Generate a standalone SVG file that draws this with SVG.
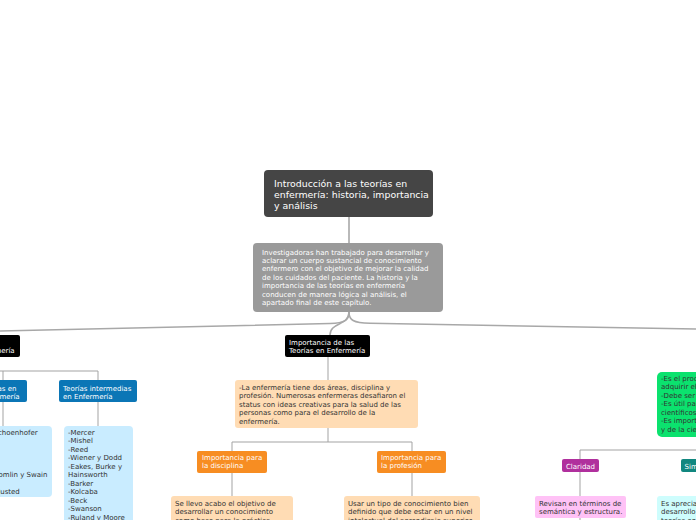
<svg xmlns="http://www.w3.org/2000/svg" width="696" height="520" viewBox="0 0 696 520">
<style>
text{font-family:"DejaVu Sans","Verdana",sans-serif;font-size:7px;fill:#333}
.w{fill:#fff}
.t{font-size:9.4px;fill:#fff}
.c{fill:none;stroke:#a3a3a3;stroke-width:1}
.m{fill:none;stroke:#a8a8a8;stroke-width:1.6}
</style>
<rect width="696" height="520" fill="#fff"/>
<g id="connectors">
<path class="m" d="M349,217 V243"/>
<path class="m" d="M349,312 C349,320 345,323 330,323.5 L0,331"/>
<path class="m" d="M349,312 C349,320 353,323 370,323.3 L696,329"/>
<path class="m" d="M349,312 C349,326 330,322 330,335"/>
<path class="c" d="M-23,357 V371 M-40,371 H98 M3,371 V380 M98,371 V380 M3,402 V426 M98,402 V426"/>
<path class="c" d="M328,357 V380 M328,428 V442 M232,442 H412 M232,442 V451 M412,442 V451 M232,473 V496 M412,473 V496"/>
<path class="c" d="M580,450 H720 M580,450 V459 M580,472 V496 M580,518 V520"/>
</g>
<g id="root">
<rect x="264" y="170" width="169" height="47" rx="4" fill="#454545"/>
<text class="t" x="274" y="186.5">Introducción a las teorías en</text>
<text class="t" x="274" y="197.5">enfermería: historia, importancia</text>
<text class="t" x="274" y="208.5">y análisis</text>
</g>
<g id="intro">
<rect x="253" y="243" width="190" height="69" rx="4" fill="#9a9a9a"/>
<text class="w" x="262" y="254.5">Investigadoras han trabajado para desarrollar y</text>
<text class="w" x="262" y="262.9">aclarar un cuerpo sustancial de conocimiento</text>
<text class="w" x="262" y="271.3">enfermero con el objetivo de mejorar la calidad</text>
<text class="w" x="262" y="279.7">de los cuidados del paciente. La historia y la</text>
<text class="w" x="262" y="288.1">importancia de las teorías en enfermería</text>
<text class="w" x="262" y="296.5">conducen de manera lógica al análisis, el</text>
<text class="w" x="262" y="304.9">apartado final de este capítulo.</text>
</g>
<g id="left-topic">
<rect x="-66" y="335" width="86" height="22" rx="2" fill="#000"/>
<text class="w" x="-61.6" y="353.2">Teorías en Enfermería</text>
</g>
<g id="teorias">
<rect x="-22" y="380" width="49" height="22" rx="2" fill="#0b76b6"/>
<text class="w" x="-19" y="390.6">Teorías en</text>
<text class="w" x="-19" y="398.8">Enfermería</text>
</g>
<g id="teorias-intermedias">
<rect x="59" y="380" width="78" height="22" rx="2" fill="#0b76b6"/>
<text class="w" x="63" y="390.6">Teorías intermedias</text>
<text class="w" x="63" y="398.8">en Enfermería</text>
</g>
<g id="lista-teorias">
<rect x="-46" y="426" width="98" height="71" rx="4" fill="#c9ecff"/>
<text x="-41" y="434.5">-Boykin y Schoenhofer</text>
<text x="-41" y="477">-Erickson, Tomlin y Swain</text>
<text x="-41" y="494">-Husted y Husted</text>
</g>
<g id="lista-intermedias">
<rect x="64" y="426" width="69" height="104" rx="4" fill="#c9ecff"/>
<text x="68" y="434.5">-Mercer</text>
<text x="68" y="443">-Mishel</text>
<text x="68" y="451.5">-Reed</text>
<text x="68" y="460">-Wiener y Dodd</text>
<text x="68" y="468.5">-Eakes, Burke y</text>
<text x="68" y="477">Hainsworth</text>
<text x="68" y="485.5">-Barker</text>
<text x="68" y="494">-Kolcaba</text>
<text x="68" y="502.5">-Beck</text>
<text x="68" y="511">-Swanson</text>
<text x="68" y="519.5">-Ruland y Moore</text>
</g>
<g id="importancia">
<rect x="285" y="335" width="85" height="22" rx="2" fill="#000"/>
<text class="w" x="289" y="345.3">Importancia de las</text>
<text class="w" x="289" y="353.3">Teorías en Enfermería</text>
</g>
<g id="areas">
<rect x="235" y="380" width="183" height="48" rx="3" fill="#ffdcb4"/>
<text x="239" y="389.5">-La enfermería tiene dos áreas, disciplina y</text>
<text x="239" y="398">profesión. Numerosas enfermeras desafiaron el</text>
<text x="239" y="406.5">status con ideas creativas para la salud de las</text>
<text x="239" y="415">personas como para el desarrollo de la</text>
<text x="239" y="423.5">enfermería.</text>
</g>
<g id="disciplina">
<rect x="197" y="451" width="70" height="22" rx="2" fill="#f78d22"/>
<text class="w" x="202" y="459.8">Importancia para</text>
<text class="w" x="202" y="468.3">la disciplina</text>
</g>
<g id="profesion">
<rect x="377" y="451" width="69" height="22" rx="2" fill="#f78d22"/>
<text class="w" x="381" y="459.8">Importancia para</text>
<text class="w" x="381" y="468.3">la profesión</text>
</g>
<g id="disciplina-texto">
<rect x="171" y="496" width="122" height="34" rx="3" fill="#ffdcb4"/>
<text x="175" y="505.5">Se llevo acabo el objetivo de</text>
<text x="175" y="514">desarrollar un conocimiento</text>
<text x="175" y="522.5">como base para la práctica</text>
</g>
<g id="profesion-texto">
<rect x="344" y="496" width="136" height="34" rx="3" fill="#ffdcb4"/>
<text x="348" y="505.5">Usar un tipo de conocimiento bien</text>
<text x="348" y="514">definido que debe estar en un nivel</text>
<text x="348" y="522.5">intelectual del aprendizaje superior</text>
</g>
<g id="analisis">
<rect x="657" y="372" width="110" height="65" rx="5" fill="#0be26e"/>
<text x="661" y="380.5">-Es el proceso</text>
<text x="661" y="389">adquirir el</text>
<text x="661" y="397.5">-Debe ser</text>
<text x="661" y="406">-Es útil para</text>
<text x="661" y="414.5">científicos</text>
<text x="661" y="423">-Es importante</text>
<text x="661" y="431.5">y de la ciencia</text>
</g>
<g id="claridad">
<rect x="562" y="459" width="37" height="13" rx="2" fill="#b0309d"/>
<text class="w" x="580.5" y="468.5" text-anchor="middle">Claridad</text>
</g>
<g id="simplicidad">
<rect x="681" y="459" width="50" height="13" rx="2" fill="#11877f"/>
<text class="w" x="684.5" y="468.5">Simplicidad</text>
</g>
<g id="claridad-texto">
<rect x="535" y="496" width="91" height="22" rx="2" fill="#ffc2f6"/>
<text x="539" y="505.5">Revisan en términos de</text>
<text x="539" y="514">semántica y estructura.</text>
</g>
<g id="simplicidad-texto">
<rect x="657" y="496" width="120" height="34" rx="3" fill="#cefdfd"/>
<text x="661" y="505.5">Es apreciada</text>
<text x="661" y="514">desarrollo</text>
<text x="661" y="522.5">teorías en</text>
</g>
</svg>
